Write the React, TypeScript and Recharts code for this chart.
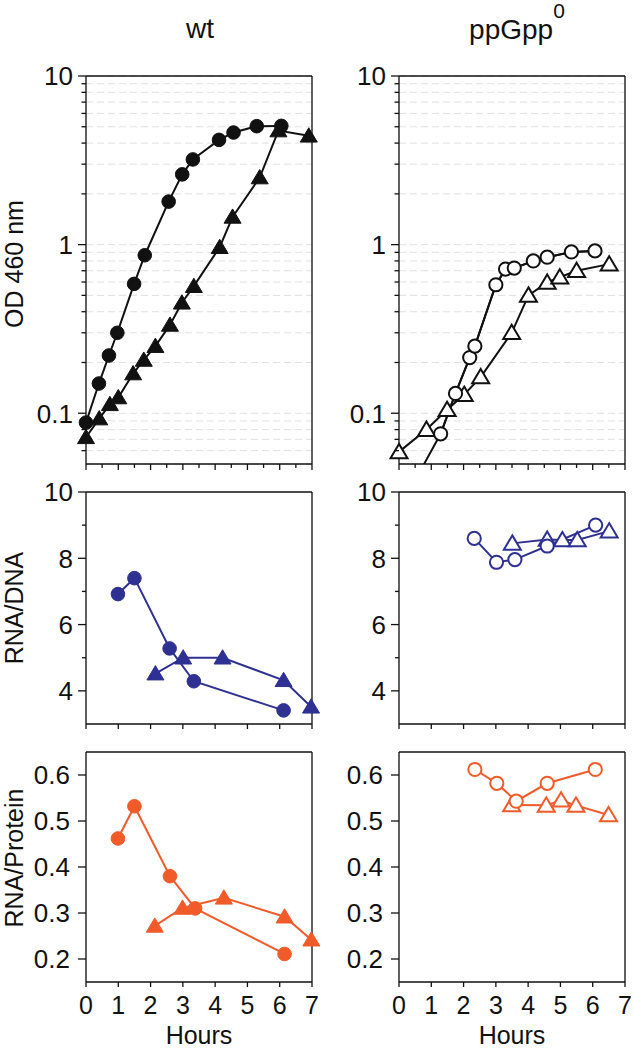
import React from 'react';
import { LineChart, Line, XAxis, YAxis, CartesianGrid, ReferenceLine } from 'recharts';

const FONT = '"Liberation Sans", Arial, Helvetica, sans-serif';
const BLUE = '#2e3192';
const ORANGE = '#f15a29';
const BLACK = '#111111';
const TICK_FONT = 26;

// ---------- tick labels ----------
const hourTicks = [0, 1, 2, 3, 4, 5, 6, 7];
const halfHourTicks = [0, 0.5, 1, 1.5, 2, 2.5, 3, 3.5, 4, 4.5, 5, 5.5, 6, 6.5, 7];
const odTicks = [0.06, 0.07, 0.08, 0.09, 0.1, 0.2, 0.3, 0.4, 0.5, 0.6, 0.7, 0.8, 0.9, 1, 2, 3, 4, 5, 6, 7, 8, 9, 10];
const odLabelTicks = [0.1, 1, 10];
const ratioTicks = [4, 5, 6, 7, 8, 9, 10];
const ratioLabelTicks = [4, 6, 8, 10];
const proteinTicks = [0.2, 0.3, 0.4, 0.5, 0.6];

// ---------- wt, OD 460 ----------
const wtOdCircleHours = [0, 0.4, 0.71, 0.97, 1.49, 1.82, 2.56, 2.98, 3.31, 4.12, 4.57, 5.29, 6.05];
const wtOdCircleValues = [0.088, 0.15, 0.22, 0.3, 0.585, 0.865, 1.8, 2.61, 3.2, 4.18, 4.62, 5.04, 5.06];
const wtOdTriangleHours = [0, 0.41, 0.74, 1.0, 1.46, 1.79, 2.15, 2.6, 2.97, 3.34, 4.14, 4.54, 5.38, 5.96, 6.9];
const wtOdTriangleValues = [0.072, 0.093, 0.113, 0.124, 0.172, 0.207, 0.25, 0.334, 0.452, 0.567, 0.965, 1.46, 2.5, 4.75, 4.42];

// ---------- ppGpp0, OD 460 ----------
const ppOdCircleHours = [0.5, 1.29, 1.75, 2.19, 2.35, 3.0, 3.3, 3.57, 4.16, 4.59, 5.34, 6.07];
const ppOdCircleValues = [0.04, 0.0755, 0.131, 0.214, 0.25, 0.578, 0.716, 0.726, 0.8, 0.842, 0.905, 0.918];
const ppOdTriangleHours = [0, 0.85, 1.49, 2.02, 2.53, 3.49, 4.01, 4.59, 4.98, 5.5, 6.51];
const ppOdTriangleValues = [0.059, 0.08, 0.105, 0.129, 0.164, 0.3, 0.5, 0.597, 0.64, 0.7, 0.766];

// ---------- wt, RNA/DNA ----------
const wtRdCircleHours = [0.99, 1.5, 2.59, 3.34, 6.12];
const wtRdCircleValues = [6.92, 7.4, 5.28, 4.29, 3.41];
const wtRdTriangleHours = [2.15, 3.01, 4.23, 6.12, 6.97];
const wtRdTriangleValues = [4.52, 5.0, 5.0, 4.32, 3.52];

// ---------- ppGpp0, RNA/DNA ----------
const ppRdCircleHours = [2.33, 3.02, 3.59, 4.59, 6.09];
const ppRdCircleValues = [8.6, 7.88, 7.96, 8.37, 9.0];
const ppRdTriangleHours = [3.51, 4.59, 5.06, 5.52, 6.51];
const ppRdTriangleValues = [8.45, 8.57, 8.55, 8.55, 8.82];

// ---------- wt, RNA/Protein ----------
const wtRpCircleHours = [0.99, 1.5, 2.6, 3.38, 6.15];
const wtRpCircleValues = [0.462, 0.532, 0.38, 0.31, 0.211];
const wtRpTriangleHours = [2.13, 2.99, 4.27, 6.15, 6.98];
const wtRpTriangleValues = [0.272, 0.311, 0.333, 0.292, 0.242];

// ---------- ppGpp0, RNA/Protein ----------
const ppRpCircleHours = [2.35, 3.03, 3.63, 4.59, 6.08];
const ppRpCircleValues = [0.612, 0.582, 0.543, 0.582, 0.612];
const ppRpTriangleHours = [3.49, 4.56, 5.02, 5.48, 6.49];
const ppRpTriangleValues = [0.535, 0.534, 0.545, 0.534, 0.513];

const odDomain = [0.05, 10];
const ratioDomain = [3, 10];
const proteinDomain = [0.15, 0.65];
const hourDomain = [0, 7];

const toPoints = (xs: number[], ys: number[]) => xs.map((x, i) => ({ x, y: ys[i] }));

// ---------- ticks ----------
const isIn = (arr: number[], v: number) => arr.some((a) => Math.abs(a - v) < 1e-9);

const makeYTick = (labels: number[], fmt: (v: number) => string, majorLen: number, minorLen: number, gap: number) =>
  (props: any) => {
    const { x, y, payload } = props;
    const v = payload.value as number;
    const major = isIn(labels, v);
    return (
      <g>
        <line x1={x} y1={y} x2={x - (major ? majorLen : minorLen)} y2={y} stroke={BLACK} strokeWidth={1.3} />
        {major ? (
          <text x={x - gap} y={y} dy="0.36em" textAnchor="end" fontSize={TICK_FONT} fontFamily={FONT} fill={BLACK}>
            {fmt(v)}
          </text>
        ) : null}
      </g>
    );
  };

const makeXTick = (dir: number, majorLen: number, minorLen: number, showLabels: boolean) => (props: any) => {
  const { x, y, payload } = props;
  const v = payload.value as number;
  const major = Number.isInteger(v);
  return (
    <g>
      <line x1={x} y1={y} x2={x} y2={y + dir * (major ? majorLen : minorLen)} stroke={BLACK} strokeWidth={1.3} />
      {showLabels ? (
        <text x={x} y={y + 23} dy="0.36em" textAnchor="middle" fontSize={TICK_FONT - 1} fontFamily={FONT} fill={BLACK}>
          {String(v)}
        </text>
      ) : null}
    </g>
  );
};

const emptyTick = () => <g />;

const odTick = makeYTick(odLabelTicks, (v) => String(v), 8, 4.5, 13);
const ratioTick = makeYTick(ratioLabelTicks, (v) => String(v), 8, 4, 13);
const proteinTick = makeYTick(proteinTicks, (v) => v.toFixed(1), 8, 4, 16);
const topPanelBottomTick = makeXTick(1, 6, 4, false);
const plainBottomTick = makeXTick(1, 5, 5, false);
const labelBottomTick = makeXTick(1, 5, 5, true);
const upTick = makeXTick(-1, 5, 5, false);

// ---------- markers ----------
const circleDot = (color: string, filled: boolean) => (p: any) => {
  if (p.cx == null || p.cy == null) return <g key={`c-${p.index}`} />;
  return (
    <circle
      key={`c-${p.index}`}
      cx={p.cx}
      cy={p.cy}
      r={filled ? 6.8 : 6.6}
      fill={filled ? color : '#ffffff'}
      stroke={color}
      strokeWidth={filled ? 1 : 2}
    />
  );
};

const triangleDot = (color: string, filled: boolean) => (p: any) => {
  if (p.cx == null || p.cy == null) return <g key={`t-${p.index}`} />;
  const hw = 8.5;
  const d = `M${p.cx},${p.cy - 8} L${p.cx + hw},${p.cy + 6.3} L${p.cx - hw},${p.cy + 6.3} Z`;
  return (
    <path
      key={`t-${p.index}`}
      d={d}
      fill={filled ? color : '#ffffff'}
      stroke={color}
      strokeWidth={filled ? 1 : 2}
      strokeLinejoin="miter"
    />
  );
};

const yLabel = (text: string, baselineX: number, shift: number) => (props: any) => {
  const vb = props.viewBox || {};
  const cy = (vb.y || 0) + (vb.height || 0) / 2 + shift;
  return (
    <text
      x={baselineX}
      y={cy}
      transform={`rotate(-90 ${baselineX} ${cy})`}
      textAnchor="middle"
      fontSize={25}
      fontFamily={FONT}
      fill={BLACK}
    >
      {text}
    </text>
  );
};

const axisLine = { stroke: BLACK, strokeWidth: 1.3 };

const LEFT_W = 324;
const RIGHT_W = 304;
const LEFT_MARGIN = { top: 6, right: 12, bottom: 2, left: 0 };
const RIGHT_MARGIN = { top: 6, right: 9, bottom: 2, left: 0 };

function OdPanel(props: { side: 'left' | 'right' }) {
  const left = props.side === 'left';
  const circles = left ? toPoints(wtOdCircleHours, wtOdCircleValues) : toPoints(ppOdCircleHours, ppOdCircleValues);
  const triangles = left ? toPoints(wtOdTriangleHours, wtOdTriangleValues) : toPoints(ppOdTriangleHours, ppOdTriangleValues);
  const visibleCircles = circles.filter((p) => p.y >= odDomain[0]);
  return (
    <LineChart width={left ? LEFT_W : RIGHT_W} height={416} margin={left ? LEFT_MARGIN : RIGHT_MARGIN}>
      <CartesianGrid horizontal vertical={false} strokeDasharray="7 4" stroke="#e0e0e0" />
      <CartesianGrid horizontal={false} vertical xAxisId="top" stroke="#e6e6e6" />
      <XAxis
        xAxisId={0}
        dataKey="x"
        type="number"
        domain={hourDomain}
        ticks={halfHourTicks}
        interval={0}
        height={10}
        tickSize={0}
        tickMargin={0}
        tickLine={false}
        axisLine={axisLine}
        tick={topPanelBottomTick}
      />
      <XAxis
        xAxisId="top"
        orientation="top"
        type="number"
        domain={hourDomain}
        allowDataOverflow
        ticks={hourTicks}
        interval={0}
        height={10}
        tickSize={0}
        tickMargin={0}
        tickLine={false}
        axisLine={axisLine}
        tick={emptyTick}
      />
      <YAxis
        yAxisId={0}
        type="number"
        scale="log"
        domain={odDomain}
        ticks={odTicks}
        interval={0}
        width={left ? 86 : 69}
        tickSize={0}
        tickMargin={0}
        tickLine={false}
        axisLine={axisLine}
        tick={odTick}
        label={left ? { content: yLabel('OD 460 nm', 23, -6) } : undefined}
      />
      <YAxis yAxisId="clip" hide type="number" scale="log" domain={odDomain} allowDataOverflow />
      <ReferenceLine x={7} stroke={BLACK} strokeWidth={1.3} />
      {!left ? (
        <Line
          yAxisId="clip"
          data={circles}
          dataKey="y"
          stroke={BLACK}
          strokeWidth={2}
          dot={false}
          isAnimationActive={false}
          legendType="none"
        />
      ) : null}
      <Line
        data={triangles}
        dataKey="y"
        stroke={BLACK}
        strokeWidth={2}
        dot={triangleDot(BLACK, left)}
        isAnimationActive={false}
      />
      <Line
        data={left ? circles : visibleCircles}
        dataKey="y"
        stroke={BLACK}
        strokeWidth={2}
        dot={circleDot(BLACK, left)}
        isAnimationActive={false}
      />
    </LineChart>
  );
}

function RatioPanel(props: { side: 'left' | 'right'; kind: 'dna' | 'protein' }) {
  const left = props.side === 'left';
  const dna = props.kind === 'dna';
  const color = dna ? BLUE : ORANGE;
  let circles, triangles;
  if (dna) {
    circles = left ? toPoints(wtRdCircleHours, wtRdCircleValues) : toPoints(ppRdCircleHours, ppRdCircleValues);
    triangles = left ? toPoints(wtRdTriangleHours, wtRdTriangleValues) : toPoints(ppRdTriangleHours, ppRdTriangleValues);
  } else {
    circles = left ? toPoints(wtRpCircleHours, wtRpCircleValues) : toPoints(ppRpCircleHours, ppRpCircleValues);
    triangles = left ? toPoints(wtRpTriangleHours, wtRpTriangleValues) : toPoints(ppRpTriangleHours, ppRpTriangleValues);
  }
  const bottomH = dna ? 10 : 65;
  const height = 6 + 10 + (dna ? 232 : 230) + bottomH + 2;
  return (
    <LineChart width={left ? LEFT_W : RIGHT_W} height={height} margin={left ? LEFT_MARGIN : RIGHT_MARGIN}>
      <CartesianGrid horizontal={false} vertical xAxisId="top" stroke="#e6e6e6" />
      <XAxis
        xAxisId={0}
        dataKey="x"
        type="number"
        domain={hourDomain}
        ticks={hourTicks}
        interval={0}
        height={bottomH}
        tickSize={0}
        tickMargin={0}
        tickLine={false}
        axisLine={axisLine}
        tick={dna ? plainBottomTick : labelBottomTick}
        label={dna ? undefined : { value: 'Hours', position: 'insideBottom', offset: 3, fontSize: 25, fill: BLACK, fontFamily: FONT }}
      />
      <XAxis
        xAxisId="top"
        orientation="top"
        type="number"
        domain={hourDomain}
        allowDataOverflow
        ticks={hourTicks}
        interval={0}
        height={10}
        tickSize={0}
        tickMargin={0}
        tickLine={false}
        axisLine={axisLine}
        tick={upTick}
      />
      <YAxis
        yAxisId={0}
        type="number"
        domain={dna ? ratioDomain : proteinDomain}
        ticks={dna ? ratioTicks : proteinTicks}
        interval={0}
        width={left ? 86 : 69}
        tickSize={0}
        tickMargin={0}
        tickLine={false}
        axisLine={axisLine}
        tick={dna ? ratioTick : proteinTick}
        label={left ? { content: yLabel(dna ? 'RNA/DNA' : 'RNA/Protein', 23, dna ? 0 : -9) } : undefined}
      />
      <ReferenceLine x={7} stroke={BLACK} strokeWidth={1.3} />
      <Line
        data={triangles}
        dataKey="y"
        stroke={color}
        strokeWidth={2}
        dot={triangleDot(color, left)}
        isAnimationActive={false}
      />
      <Line
        data={circles}
        dataKey="y"
        stroke={color}
        strokeWidth={2}
        dot={circleDot(color, left)}
        isAnimationActive={false}
      />
    </LineChart>
  );
}

export default function App() {
  const abs = (left: number, top: number): React.CSSProperties => ({ position: 'absolute', left, top });
  return (
    <div style={{ position: 'absolute', left: 0, top: 0, width: 634, height: 1049, background: '#ffffff', fontFamily: FONT }}>
      <svg width={634} height={50} style={abs(0, 0)}>
        <text x={200} y={38} textAnchor="middle" fontSize={28} fontFamily={FONT} fill={BLACK}>
          wt
        </text>
        <text x={517} y={39} textAnchor="middle" fontSize={28} fontFamily={FONT} fill={BLACK}>
          ppGpp
          <tspan dy={-21} fontSize={21}>
            0
          </tspan>
        </text>
      </svg>
      <div style={abs(0, 60)}>
        <OdPanel side="left" />
      </div>
      <div style={abs(330, 60)}>
        <OdPanel side="right" />
      </div>
      <div style={abs(0, 476)}>
        <RatioPanel side="left" kind="dna" />
      </div>
      <div style={abs(330, 476)}>
        <RatioPanel side="right" kind="dna" />
      </div>
      <div style={abs(0, 736)}>
        <RatioPanel side="left" kind="protein" />
      </div>
      <div style={abs(330, 736)}>
        <RatioPanel side="right" kind="protein" />
      </div>
    </div>
  );
}
